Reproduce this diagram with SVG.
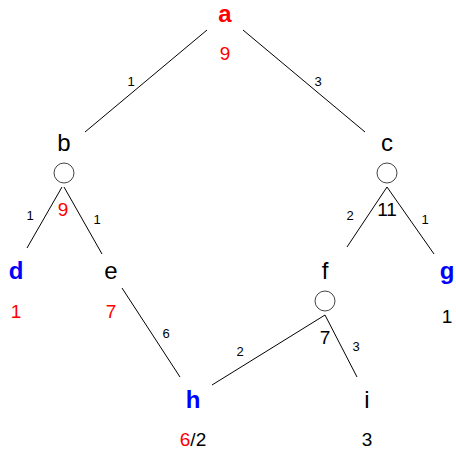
<svg xmlns="http://www.w3.org/2000/svg" width="456" height="449" viewBox="0 0 456 449">
<style>
text{font-family:"Liberation Sans","DejaVu Sans",sans-serif;text-anchor:middle}
.n{font-size:24px;fill:#000}
.hl{font-size:24px;font-weight:bold}
.red{fill:#ff0000}
.blue{fill:#0000ff}
.v{font-size:19px}
.w{font-size:13px;fill:#000}
.edges line{stroke:#000;stroke-width:1}
.st{fill:none;stroke:#444;stroke-width:1}
</style>
<rect width="456" height="449" fill="#fff"/>
<g id="connectors" class="edges">
<line x1="207" y1="30" x2="85" y2="132"/>
<line x1="243" y1="30" x2="365" y2="132"/>
<line x1="62" y1="187" x2="27" y2="248"/>
<line x1="64" y1="187" x2="102" y2="254"/>
<line x1="387" y1="187" x2="347" y2="247"/>
<line x1="387" y1="187" x2="434" y2="254"/>
<line x1="122" y1="288" x2="180" y2="377"/>
<line x1="325" y1="315" x2="212" y2="385"/>
<line x1="325" y1="315" x2="357" y2="377"/>
<text class="w" x="131" y="86">1</text>
<text class="w" x="318" y="86">3</text>
<text class="w" x="30" y="220">1</text>
<text class="w" x="97" y="224">1</text>
<text class="w" x="350" y="220">2</text>
<text class="w" x="425" y="224">1</text>
<text class="w" x="166" y="338">6</text>
<text class="w" x="240" y="356">2</text>
<text class="w" x="356" y="351">3</text>
</g>
<g id="node-a">
<text class="hl red" x="225" y="22">a</text>
<text class="v red" x="225" y="60">9</text>
</g>
<g id="node-b">
<text class="n" x="64" y="151">b</text>
<circle class="st" cx="64" cy="173" r="10"/>
<text class="v red" x="63" y="216">9</text>
</g>
<g id="node-c">
<text class="n" x="387" y="151">c</text>
<circle class="st" cx="387" cy="173" r="10"/>
<text class="v" x="387" y="216">11</text>
</g>
<g id="node-d">
<text class="hl blue" x="16" y="279">d</text>
<text class="v red" x="16" y="318">1</text>
</g>
<g id="node-e">
<text class="n" x="111" y="279">e</text>
<text class="v red" x="111" y="318">7</text>
</g>
<g id="node-f">
<text class="n" x="325" y="279">f</text>
<circle class="st" cx="325" cy="301" r="10"/>
<text class="v" x="325" y="344">7</text>
</g>
<g id="node-g">
<text class="hl blue" x="447" y="279">g</text>
<text class="v" x="447" y="323">1</text>
</g>
<g id="node-h">
<text class="hl blue" x="193" y="408">h</text>
<text class="v" x="193" y="446"><tspan class="red">6</tspan>/2</text>
</g>
<g id="node-i">
<text class="n" x="367" y="408">i</text>
<text class="v" x="367" y="446">3</text>
</g>
</svg>
